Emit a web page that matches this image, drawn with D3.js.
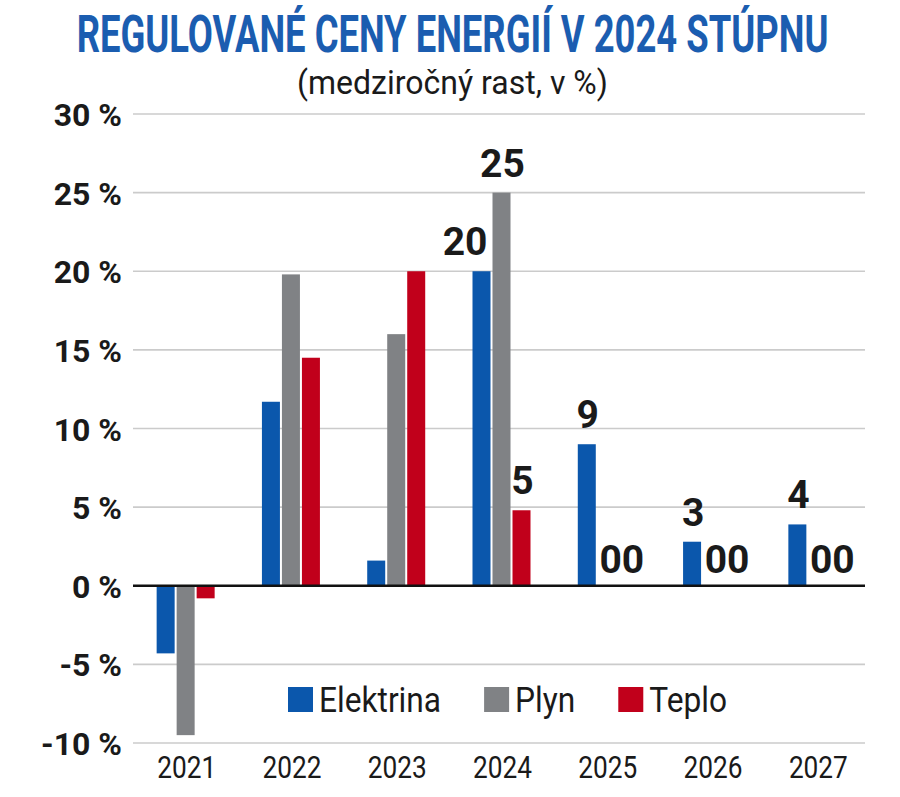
<!DOCTYPE html>
<html>
<head>
<meta charset="utf-8">
<script src="https://cdn.jsdelivr.net/npm/d3@7"></script>
<style>
  html, body { margin: 0; padding: 0; background: #fff; }
  svg { display: block; }
  text { font-family: Roboto, "Noto Sans", sans-serif; }
</style>
</head>
<body>
<svg id="chart" width="900" height="797"></svg>
<script>
// ---- data ----
const title = "REGULOVANÉ CENY ENERGIÍ V 2024 STÚPNU";
const subtitle = "(medziročný rast, v %)";
const years = ["2021", "2022", "2023", "2024", "2025", "2026", "2027"];
const seriesNames = ["Elektrina", "Plyn", "Teplo"];
const elektrina = [-4.3, 11.7, 1.6, 20, 9, 2.8, 3.9];
const plyn = [-9.5, 19.8, 16.0, 25, 0, 0, 0];
const teplo = [-0.8, 14.5, 20.0, 4.8, 0, 0, 0];
const labelledYears = ["2024", "2025", "2026", "2027"];
const yTicks = [-10, -5, 0, 5, 10, 15, 20, 25, 30];
const colors = ["#0b57ac", "#808285", "#c1001b"];

const seriesValues = [elektrina, plyn, teplo];

// ---- layout ----
const svg = d3.select("#chart");
const plotLeft = 133, plotRight = 865;
const x0 = d3.scaleBand().domain(years).range([plotLeft, plotRight + 5]).padding(0);
const groupW = 58;
const x1 = d3.scaleBand().domain(seriesNames).range([0, groupW]).paddingInner(0.1);
const y = d3.scaleLinear().domain([-10, 30]).range([743, 114]);
const cx = yr => x0(yr) + x0.bandwidth() / 2;
const barX = (yr, s) => cx(yr) - groupW / 2 + x1(s);

// condensed text helper: horizontal scale about the anchor point
function condense(sel, k) {
  sel.each(function () {
    const t = d3.select(this);
    const xx = +t.attr("x") || 0, yy = +t.attr("y") || 0;
    t.attr("x", 0).attr("y", 0)
     .attr("transform", `translate(${xx},${yy}) scale(${k},1)`);
  });
}
function fitWidth(t, target) {
  const w = t.node().getComputedTextLength();
  condense(t, target / w);
}

// title
const tt = svg.append("text")
  .attr("x", 452.5).attr("y", 52)
  .attr("text-anchor", "middle")
  .attr("font-size", 52).attr("font-weight", 700)
  .attr("fill", "#1b5db0")
  .text(title);
fitWidth(tt, 752);

const st = svg.append("text")
  .attr("x", 452.5).attr("y", 94)
  .attr("text-anchor", "middle")
  .attr("font-size", 33).attr("font-weight", 400)
  .attr("fill", "#1a1a1a")
  .text(subtitle);
fitWidth(st, 311);

// gridlines
svg.append("g").selectAll("line").data(yTicks.filter(d => d !== 0)).join("line")
  .attr("x1", plotLeft).attr("x2", plotRight)
  .attr("y1", d => y(d)).attr("y2", d => y(d))
  .attr("stroke", "#cbcbcb").attr("stroke-width", 1.6);

// y axis labels
const yAxis = d3.axisLeft(y).tickValues(yTicks).tickSize(0).tickPadding(0)
  .tickFormat(d => d + " %");
const gy = svg.append("g").attr("transform", "translate(122,0)").call(yAxis);
gy.select(".domain").remove();
gy.selectAll("text")
  .attr("font-family", "Roboto, sans-serif")
  .attr("font-size", 32).attr("font-weight", 700)
  .attr("fill", "#1a1a1a").attr("dy", "0.36em");

// bars
const barData = [];
years.forEach((yr, i) => {
  seriesNames.forEach((s, j) => {
    barData.push({ year: yr, series: s, si: j, value: seriesValues[j][i], idx: i });
  });
});
svg.append("g").selectAll("rect").data(barData).join("rect")
  .attr("x", d => barX(d.year, d.series))
  .attr("width", x1.bandwidth())
  .attr("y", d => y(Math.max(0, d.value)))
  .attr("height", d => Math.abs(y(d.value) - y(0)))
  .attr("fill", d => colors[d.si]);

// zero line
svg.append("line")
  .attr("x1", plotLeft).attr("x2", plotRight)
  .attr("y1", y(0)).attr("y2", y(0))
  .attr("stroke", "#111").attr("stroke-width", 2.5);

// value labels: adjacent zero bars share one label ("00")
const labels = [];
years.forEach((yr, i) => {
  if (!labelledYears.includes(yr)) return;
  let zeroRun = [];
  const flush = () => {
    if (!zeroRun.length) return;
    const l = barX(yr, seriesNames[zeroRun[0]]);
    const r = barX(yr, seriesNames[zeroRun[zeroRun.length - 1]]) + x1.bandwidth();
    labels.push({ x: (l + r) / 2 + 5, y: y(0) - 13, anchor: "middle",
      text: zeroRun.map(() => "0").join("") });
    zeroRun = [];
  };
  seriesNames.forEach((s, j) => {
    const v = seriesValues[j][i];
    if (v === 0) { zeroRun.push(j); return; }
    flush();
    const left = barX(yr, s);
    const next = seriesValues[j + 1] ? seriesValues[j + 1][i] : -Infinity;
    const shift = next > v + 2;
    labels.push({
      x: shift ? left + x1.bandwidth() - 3 : left + x1.bandwidth() / 2 + 1,
      y: y(Math.max(0, v)) - 16,
      anchor: shift ? "end" : "middle",
      text: d3.format(".0f")(v)
    });
  });
  flush();
});
svg.append("g").selectAll("text").data(labels).join("text")
  .attr("x", d => d.x).attr("y", d => d.y)
  .attr("text-anchor", d => d.anchor)
  .attr("font-size", 39).attr("font-weight", 700)
  .attr("fill", "#1a1a1a")
  .text(d => d.text);

// x axis labels
const xAxis = d3.axisBottom(x0).tickSize(0).tickPadding(0);
const gx = svg.append("g").attr("transform", "translate(0,778)").call(xAxis);
gx.select(".domain").remove();
gx.selectAll("text")
  .attr("font-family", "Roboto, sans-serif")
  .attr("font-size", 32).attr("font-weight", 400)
  .attr("fill", "#1a1a1a").attr("dy", 0)
  .attr("y", 0);
gx.selectAll(".tick").attr("transform", d => `translate(${cx(d) + 1},0)`);
condense(gx.selectAll("text"), 0.82);

// legend
const leg = svg.append("g");
let lx = 288;
seriesNames.forEach((s, j) => {
  leg.append("rect").attr("x", lx).attr("y", 687).attr("width", 25).attr("height", 25)
    .attr("fill", colors[j]);
  const t = leg.append("text").attr("x", lx + 31).attr("y", 712)
    .attr("font-size", 36).attr("font-weight", 400).attr("fill", "#1a1a1a")
    .text(s);
  const k = 0.88;
  const w = t.node().getComputedTextLength() * k;
  condense(t, k);
  lx += 31 + w + 43;
});
</script>
</body>
</html>
